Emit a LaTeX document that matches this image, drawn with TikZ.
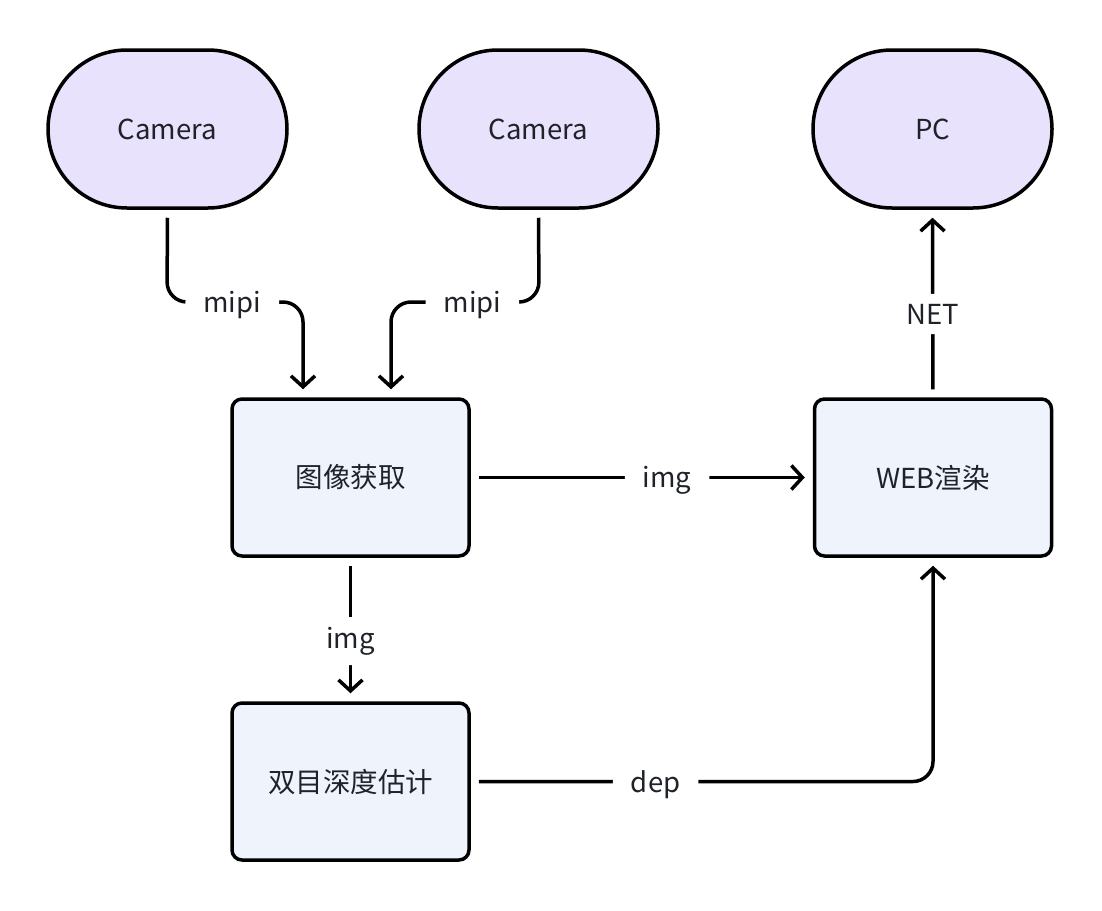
\documentclass[tikz,border=0pt]{standalone}
\usepackage{fontspec}
\setmainfont{Noto Sans CJK SC}
\usetikzlibrary{arrows.meta,shapes.misc,calc}
\definecolor{camfill}{HTML}{E8E2FC}
\definecolor{boxfill}{HTML}{EEF3FC}
\definecolor{txt}{HTML}{1F2329}
\begin{document}
\begin{tikzpicture}[x=1pt,y=-1pt,
  base/.style={draw=black,line width=3.5pt,text=txt,font=\fontsize{27.5}{32}\selectfont,inner sep=0pt},
  cam/.style={base,rounded rectangle,fill=camfill,minimum width=239pt,minimum height=158pt},
  proc/.style={base,rectangle,rounded corners=10pt,fill=boxfill,minimum width=237pt,minimum height=157pt},
  conn/.style={line width=3.5pt,draw=black,rounded corners=20pt,shorten <=8pt,shorten >=8pt},
  arr/.style={-{Straight Barb[length=11pt,width=24pt]}},
  lbl/.style={fill=white,text=txt,font=\fontsize{27.5}{32}\selectfont,inner xsep=18pt,inner ysep=10pt,yshift=-3pt}]
\useasboundingbox[fill=white] (0,0) rectangle (1102,910);
\node[cam] (c1) at (167.5,129) {Camera};
\node[cam] (c2) at (538.5,129) {Camera};
\node[cam] (pc) at (932.5,129) {PC};
\node[proc] (acq) at (350.5,477.5) {图像获取};
\node[proc] (web) at (933,477.5) {WEB渲染};
\node[proc] (dep) at (350.5,781.5) {双目深度估计};
\draw[conn,arr] (c1.south) -- (167,302) -- node[lbl,pos=0.48] (m1) {mipi} (303,302) -- ([xshift=-47.5pt]acq.north);
\draw[conn,arr] (c2.south) -- (539,302) -- node[lbl,pos=0.45] (m2) {mipi} (391,302) -- ([xshift=40.5pt]acq.north);
\draw[conn,arr] (acq.east) -- node[lbl,pos=0.574] (l1) {img} (web.west);
\draw[conn,arr] (acq.south) -- node[lbl,pos=0.56] (l2) {img} (dep.north);
\draw[conn,arr] (dep.east) -- node[lbl,pos=0.40] (l3) {dep} (web.south |- dep.east) -- (web.south);
\draw[conn,arr] (web.north) -- node[lbl,pos=0.46] (l4) {NET} (pc.south);
\end{tikzpicture}
\end{document}
